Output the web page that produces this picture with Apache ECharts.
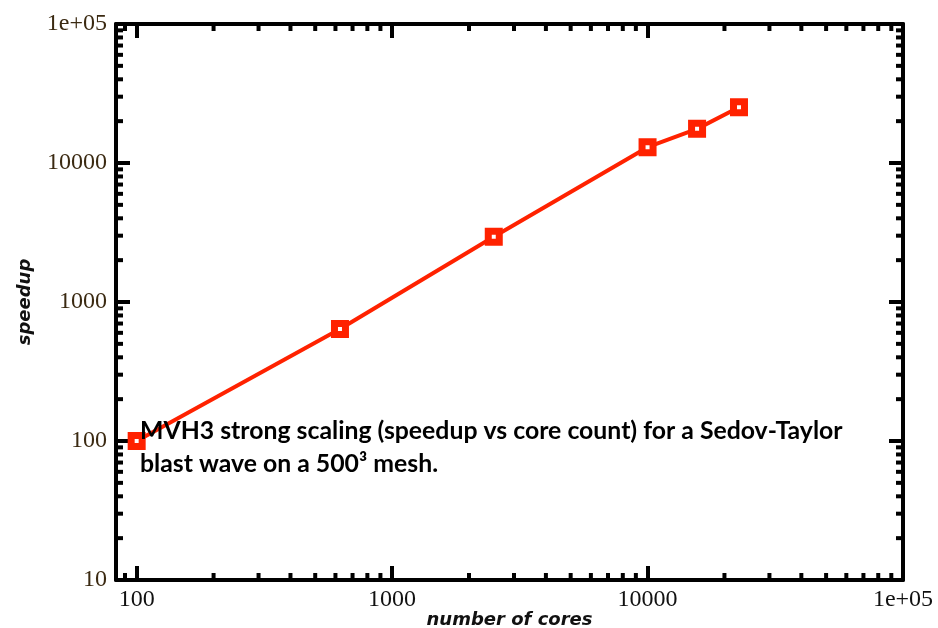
<!DOCTYPE html>
<html><head><meta charset="utf-8">
<script src="https://cdn.jsdelivr.net/npm/echarts@6/dist/echarts.min.js"></script>
<style>html,body{margin:0;padding:0;background:#fff}#c{width:938px;height:628px}</style>
</head><body><div id="c"></div>
<script>
const cores = [100, 625, 2500, 10000, 15625, 22800];
const speedup = [100, 640, 2950, 13000, 17600, 25200];
const xTickLabels = {2: '100', 3: '1000', 4: '10000', 5: '1e+05'};
const yTickLabels = {1: '10', 2: '100', 3: '1000', 4: '10000', 5: '1e+05'};
const xRange = [83, 100000];
const yRange = [10, 100000];
const minorMultipliers = [2, 3, 4, 5, 6, 7, 8, 9];
const decades = [10, 100, 1000, 10000];
const annotationLines = ['MVH3 strong scaling (speedup vs core count) for a Sedov-Taylor', 'blast wave on a 500\u00b3 mesh.'];
const xName = 'number of cores';
const yName = 'speedup';

function minorTicks(range) {
  const out = [];
  decades.forEach(d => minorMultipliers.forEach(m => {
    const v = d * m;
    if (v > range[0] && v < range[1]) out.push(v);
  }));
  return out;
}

function labelFor(map) {
  return function (v) {
    const l = Math.log10(v);
    const r = Math.round(l);
    if (Math.abs(l - r) > 1e-6) return '';
    return map[r] || '';
  };
}

const RED = '#ff2200';
const tickStyle = {stroke: '#000', lineWidth: 4};

function minorTickSeries(values, dim) {
  return {
    type: 'custom', silent: true, z: 5, clip: false,
    data: values.map(v => dim === 'x' ? [v, 100] : [100, v]),
    renderItem: function (params, api) {
      const cs = params.coordSys;
      const p = api.coord([api.value(0), api.value(1)]);
      const L = 7;
      if (dim === 'x') {
        const x = p[0];
        return {type: 'group', children: [
          {type: 'line', shape: {x1: x, y1: cs.y + cs.height, x2: x, y2: cs.y + cs.height - L}, style: tickStyle},
          {type: 'line', shape: {x1: x, y1: cs.y, x2: x, y2: cs.y + L}, style: tickStyle}
        ]};
      } else {
        const y = p[1];
        return {type: 'group', children: [
          {type: 'line', shape: {x1: cs.x, y1: y, x2: cs.x + L, y2: y}, style: tickStyle},
          {type: 'line', shape: {x1: cs.x + cs.width, y1: y, x2: cs.x + cs.width - L, y2: y}, style: tickStyle}
        ]};
      }
    }
  };
}

const axisLineCfg = {show: true, lineStyle: {color: '#000', width: 4}};
const axisTickCfg = {show: true, inside: true, length: 14, lineStyle: {color: '#000', width: 4}};

const chart = echarts.init(document.getElementById('c'), null, {renderer: 'canvas'});
chart.setOption({
  animation: false,
  backgroundColor: '#fff',
  grid: {left: 116, right: 35, top: 24, bottom: 48, containLabel: false, outerBoundsMode: 'none'},
  xAxis: [{
    type: 'log', logBase: 10, min: xRange[0], max: xRange[1], position: 'bottom',
    axisLine: axisLineCfg, axisTick: axisTickCfg, splitLine: {show: false},
    axisLabel: {formatter: labelFor(xTickLabels), fontFamily: 'Liberation Serif', fontSize: 24, color: '#111', margin: 8, showMinLabel: false},
    name: xName, nameLocation: 'middle', nameGap: 31, nameMoveOverlap: false,
    nameTextStyle: {fontFamily: 'DejaVu Sans', fontWeight: 'bold', fontStyle: 'italic', fontSize: 18, color: '#111'}
  }, {
    type: 'log', logBase: 10, min: xRange[0], max: xRange[1], position: 'top',
    axisLine: axisLineCfg, axisTick: axisTickCfg, splitLine: {show: false}, axisLabel: {show: false}
  }],
  yAxis: [{
    type: 'log', logBase: 10, min: yRange[0], max: yRange[1], position: 'left',
    axisLine: axisLineCfg, axisTick: axisTickCfg, splitLine: {show: false},
    axisLabel: {formatter: labelFor(yTickLabels), fontFamily: 'Liberation Serif', fontSize: 24, color: '#3b2a12', margin: 9},
    name: yName, nameLocation: 'middle', nameGap: 82, nameRotate: 90, nameMoveOverlap: false,
    nameTextStyle: {fontFamily: 'DejaVu Sans', fontWeight: 'bold', fontStyle: 'italic', fontSize: 18, color: '#111'}
  }, {
    type: 'log', logBase: 10, min: yRange[0], max: yRange[1], position: 'right',
    axisLine: axisLineCfg, axisTick: axisTickCfg, splitLine: {show: false}, axisLabel: {show: false}
  }],
  graphic: [
    {type: 'text', z: 100, x: 140, y: 431, style: {text: annotationLines[0], font: 'bold 24.8px Lato', fill: '#000', verticalAlign: 'middle'}},
    {type: 'text', z: 100, x: 140, y: 464, style: {text: annotationLines[1], font: 'bold 24.8px Lato', fill: '#000', verticalAlign: 'middle'}}
  ],
  series: [
    {
      type: 'line', data: cores.map((c, i) => [c, speedup[i]]), z: 10,
      lineStyle: {color: RED, width: 4},
      symbol: 'rect', symbolSize: 11, showAllSymbol: true,
      itemStyle: {color: '#fff', borderColor: RED, borderWidth: 7}
    },
    minorTickSeries(minorTicks(xRange), 'x'),
    minorTickSeries(minorTicks(yRange), 'y')
  ]
});
</script></body></html>
